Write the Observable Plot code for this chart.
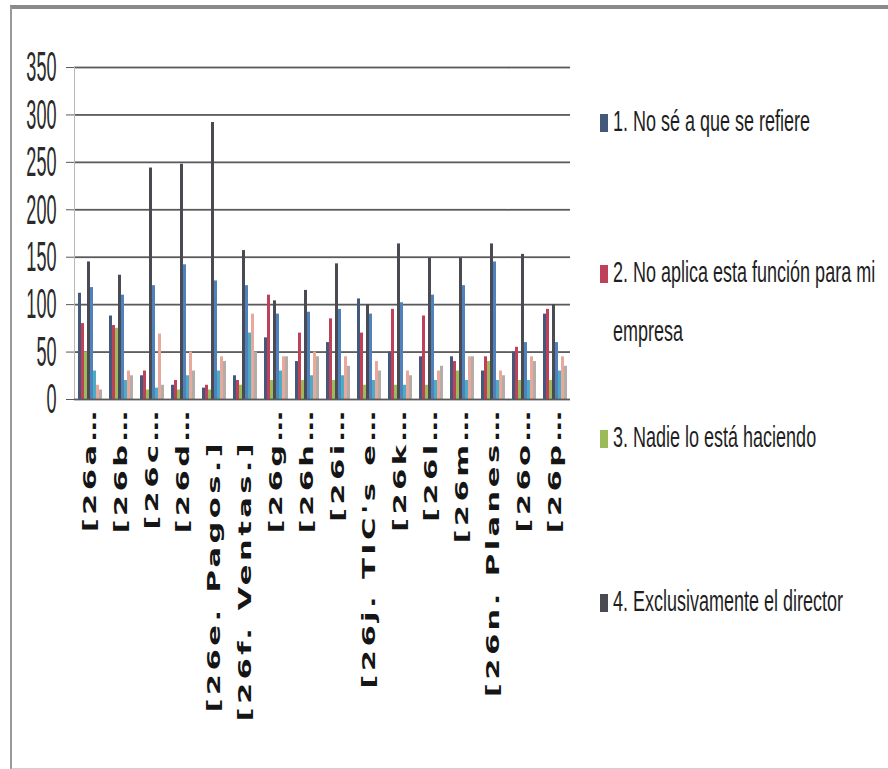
<!DOCTYPE html>
<html>
<head>
<meta charset="utf-8">
<script src="https://cdn.jsdelivr.net/npm/d3@7"></script>
<script src="https://cdn.jsdelivr.net/npm/@observablehq/plot@0.6"></script>
<style>
  html, body { margin: 0; padding: 0; background: #fff; }
  #wrap { position: relative; width: 888px; height: 769px; overflow: hidden; background: #fff; }
  #frame { position: absolute; left: 10px; top: 5px; width: 890px; height: 759px;
           border-top: 4px solid #8a8a8a; border-left: 2px solid #9a9a9a; border-bottom: 2px solid #cfcfcf; box-sizing: content-box; }
  #chart { position: absolute; left: 0; top: 0; }
  .leg { position: absolute; left: 600px; height: 30px; white-space: nowrap; }
  .sw { position: absolute; left: 0; top: 8px; width: 8px; height: 18px; }
  .lt { position: absolute; left: 13px; top: 0; font-family: "Liberation Sans", Arial, sans-serif; font-size: 30px;
        line-height: 30px; color: #1e1e1e; transform: scaleX(0.6); transform-origin: 0 0; }
</style>
</head>
<body>
<div id="wrap">
  <div id="frame"></div>
  <div id="chart"></div>
  <div id="legend"></div>
</div>
<script>
// Categories (x tick labels)
const categories = ["[26a…", "[26b…", "[26c…", "[26d…", "[26e. Pagos.]", "[26f. Ventas.]", "[26g…", "[26h…",
                    "[26i…", "[26j. TIC's e…", "[26k…", "[26l…", "[26m…", "[26n. Planes…", "[26o…", "[26p…"];
// Series keys and legend labels (legend shows only the first four)
const seriesKeys = ["1", "2", "3", "4", "5", "6", "7", "8"];
const legendLabels = ["1. No sé a que se refiere", "2. No aplica esta función para mi|empresa",
                      "3. Nadie lo está haciendo", "4. Exclusivamente el director"];
const seriesColors = ["#44597a", "#c0405a", "#9bbb59", "#4a4a52", "#4f81bd", "#4bacc6", "#e8a99c", "#b4aca6"];
// Series values, one per category
const s1 = [112, 88, 25, 15, 12, 25, 65, 40, 60, 106, 50, 45, 45, 30, 50, 90];
const s2 = [80, 78, 30, 20, 15, 20, 110, 70, 85, 70, 95, 88, 40, 45, 55, 95];
const s3 = [50, 75, 10, 10, 10, 15, 20, 20, 20, 15, 15, 15, 30, 40, 20, 20];
const s4 = [145, 131, 244, 248, 292, 157, 104, 115, 143, 100, 164, 149, 149, 164, 153, 100];
const s5 = [118, 110, 120, 142, 125, 120, 90, 92, 95, 90, 102, 110, 120, 145, 60, 60];
const s6 = [30, 20, 12, 25, 30, 70, 30, 25, 25, 20, 15, 20, 20, 20, 20, 30];
const s7 = [15, 30, 69, 50, 45, 90, 45, 50, 45, 40, 30, 30, 45, 30, 45, 45];
const s8 = [10, 25, 15, 30, 40, 50, 45, 45, 35, 30, 25, 35, 45, 25, 40, 35];
const yTicks = [0, 50, 100, 150, 200, 250, 300, 350];

const allSeries = [s1, s2, s3, s4, s5, s6, s7, s8];
const data = [];
categories.forEach((c, i) => {
  seriesKeys.forEach((k, j) => data.push({cat: c, series: k, value: allSeries[j][i]}));
});

const plot = Plot.plot({
  width: 888,
  height: 769,
  marginLeft: 74,
  marginRight: 318,
  marginTop: 67,
  marginBottom: 370,
  style: {fontFamily: "Liberation Sans, Arial, sans-serif", background: "transparent", overflow: "visible"},
  fx: {domain: categories, padding: 0, label: null},
  x: {domain: seriesKeys, axis: null, paddingInner: 0, paddingOuter: 0.35},
  y: {domain: [0, 350], label: null},
  color: {domain: seriesKeys, range: seriesColors},
  marks: [
    Plot.gridY(yTicks.filter(d => d > 0), {stroke: "#5a5a5a", strokeOpacity: 1, strokeWidth: 1.8}),
    Plot.frame({anchor: "left", facetAnchor: "left", stroke: "#b8b8b8"}),
    Plot.barY(data, {fx: "cat", x: "series", y: "value", fill: "series"}),
    Plot.ruleY([0], {stroke: "#5a5a5a", strokeWidth: 1.8}),
    Plot.axisY({ticks: yTicks, tickSize: 8, tickPadding: 10, stroke: "#5a5a5a", label: null, fill: "#2a2a2a"}),
    Plot.axisFx({anchor: "bottom", tickRotate: -90, tickSize: 0, tickPadding: 8, label: null, fill: "#151515",
                 fontFamily: "DejaVu Sans, sans-serif"})
  ]
});
document.getElementById("chart").appendChild(plot);

const svg = plot.tagName && plot.tagName.toLowerCase() === "svg" ? plot : plot.querySelector("svg");
function addTransform(el, extra) {
  const t = el.getAttribute("transform");
  if (t) {
    el.setAttribute("transform", t + " " + extra);
  } else {
    const x = +el.getAttribute("x") || 0, y = +el.getAttribute("y") || 0;
    el.removeAttribute("x"); el.removeAttribute("y");
    el.setAttribute("transform", `translate(${x},${y}) ${extra}`);
  }
}
d3.select(svg).selectAll('g[aria-label="y-axis tick label"] text').each(function () {
  this.setAttribute("font-size", "43");
  this.setAttribute("text-anchor", "end");
  addTransform(this, "scale(0.42,1)");
});
d3.select(svg).selectAll('g[aria-label="fx-axis tick label"] text').each(function () {
  this.setAttribute("font-size", "18");
  this.setAttribute("font-weight", "bold");
  this.setAttribute("font-family", "DejaVu Sans, sans-serif");
  this.setAttribute("letter-spacing", "2");
  this.setAttribute("text-anchor", "end");
  addTransform(this, "scale(1.7,1)");
  if (!this.textContent.endsWith("…")) this.setAttribute("dx", "-19");
});

// Legend (HTML)
const legendTops = [106, 257, 422, 586];
const legend = document.getElementById("legend");
legendLabels.forEach((lab, i) => {
  const parts = lab.split("|");
  const d = document.createElement("div");
  d.className = "leg";
  d.style.top = legendTops[i] + "px";
  d.innerHTML = `<div class="sw" style="background:${seriesColors[i]}"></div><div class="lt">${parts[0]}</div>`;
  legend.appendChild(d);
  if (parts[1]) {
    const d2 = document.createElement("div");
    d2.className = "leg";
    d2.style.top = (legendTops[i] + 59) + "px";
    d2.innerHTML = `<div class="lt">${parts[1]}</div>`;
    legend.appendChild(d2);
  }
});
</script>
</body>
</html>
